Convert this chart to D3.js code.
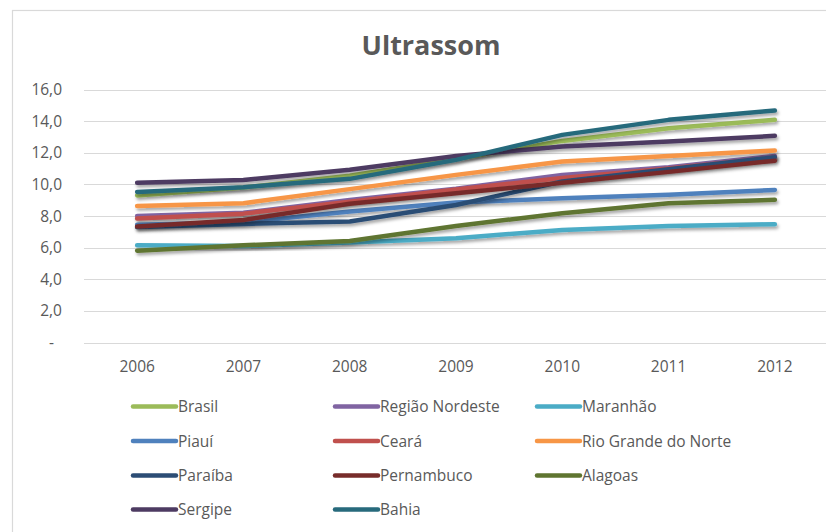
<!DOCTYPE html>
<html>
<head>
<meta charset="utf-8">
<script src="https://cdn.jsdelivr.net/npm/d3@7"></script>
<style>
  html, body { margin: 0; padding: 0; background: #fff; }
  svg { display: block; }
  text { font-family: "Open Sans", "DejaVu Sans", sans-serif; fill: #595959; }
</style>
</head>
<body>
<svg id="chart" width="826" height="532"></svg>
<script>
const years = ["2006", "2007", "2008", "2009", "2010", "2011", "2012"];
const yTicks = [0, 2, 4, 6, 8, 10, 12, 14, 16];

const seriesNames = ["Brasil", "Região Nordeste", "Maranhão", "Piauí", "Ceará",
  "Rio Grande do Norte", "Paraíba", "Pernambuco", "Alagoas", "Sergipe", "Bahia"];
const seriesColors = ["#9BBB59", "#8064A2", "#4BACC6", "#4F81BD", "#C0504D",
  "#F79646", "#2C4D75", "#772C2A", "#5F7530", "#4D3B62", "#276A7C"];

const brasil         = [9.3, 9.8, 10.55, 11.6, 12.75, 13.55, 14.08];
const regiaoNordeste = [8.0, 8.2, 9.02, 9.72, 10.6, 11.09, 11.8];
const maranhao       = [6.15, 6.1, 6.32, 6.6, 7.12, 7.37, 7.48];
const piaui          = [7.45, 7.6, 8.28, 8.85, 9.12, 9.34, 9.65];
const ceara          = [7.84, 8.15, 8.91, 9.68, 10.4, 11.0, 11.7];
const rioGrandeNorte = [8.64, 8.81, 9.7, 10.6, 11.45, 11.8, 12.14];
const paraiba        = [7.3, 7.5, 7.65, 8.7, 10.18, 10.96, 11.72];
const pernambuco     = [7.33, 7.75, 8.77, 9.44, 10.1, 10.79, 11.5];
const alagoas        = [5.81, 6.15, 6.42, 7.37, 8.18, 8.81, 9.02];
const sergipe        = [10.1, 10.28, 10.92, 11.8, 12.4, 12.71, 13.07];
const bahia          = [9.52, 9.82, 10.35, 11.55, 13.13, 14.08, 14.67];

const seriesValues = [brasil, regiaoNordeste, maranhao, piaui, ceara,
  rioGrandeNorte, paraiba, pernambuco, alagoas, sergipe, bahia];

const svg = d3.select("#chart");

// chart border
svg.append("rect")
  .attr("x", 12.5).attr("y", 10.5)
  .attr("width", 830).attr("height", 540)
  .attr("fill", "#fff").attr("stroke", "#d9d9d9").attr("stroke-width", 1.2);

// shadow filter
const defs = svg.append("defs");
const f = defs.append("filter").attr("id", "shadow")
  .attr("x", "-5%").attr("y", "-20%").attr("width", "110%").attr("height", "140%");
f.append("feDropShadow")
  .attr("dx", 1.5).attr("dy", 2.5).attr("stdDeviation", 1.6)
  .attr("flood-color", "#000").attr("flood-opacity", 0.35);

const plotLeft = 84, plotRight = 828;
const x = d3.scalePoint().domain(years).range([plotLeft, plotRight]).padding(0.5);
const y = d3.scaleLinear().domain([0, 16]).range([342.5, 89.5]);

// title
svg.append("text")
  .attr("x", 431).attr("y", 55)
  .attr("text-anchor", "middle")
  .style("font-size", "27px").style("font-weight", "bold")
  .text("Ultrassom");

// gridlines
svg.append("g").selectAll("line")
  .data(yTicks).join("line")
  .attr("x1", plotLeft).attr("x2", plotRight)
  .attr("y1", d => Math.round(y(d)) + 0.5).attr("y2", d => Math.round(y(d)) + 0.5)
  .attr("stroke", "#d9d9d9").attr("stroke-width", 1);

// y axis labels
const fmt = d => d === 0 ? "-" : d.toFixed(1).replace(".", ",");
svg.append("g").selectAll("text")
  .data(yTicks).join("text")
  .attr("x", d => d === 0 ? 54 : 62)
  .attr("y", d => y(d))
  .attr("dy", "0.36em")
  .attr("text-anchor", "end")
  .style("font-size", "15.5px")
  .text(fmt);

// x axis labels
svg.append("g").selectAll("text")
  .data(years).join("text")
  .attr("x", d => x(d))
  .attr("y", 372)
  .attr("text-anchor", "middle")
  .style("font-size", "15.5px")
  .text(d => d);

// lines
const line = d3.line()
  .x((d, i) => x(years[i]))
  .y(d => y(d));

svg.append("g").selectAll("path")
  .data(seriesValues).join("path")
  .attr("d", d => line(d))
  .attr("fill", "none")
  .attr("stroke", (d, i) => seriesColors[i])
  .attr("stroke-width", 4.5)
  .attr("stroke-linecap", "round")
  .attr("stroke-linejoin", "round")
  .attr("filter", "url(#shadow)");

// legend
const colX = [133, 335, 537];
const rowY = [406.5, 441, 475.5, 509.5];
const leg = svg.append("g").selectAll("g")
  .data(seriesNames).join("g")
  .attr("transform", (d, i) => `translate(${colX[i % 3]},${rowY[Math.floor(i / 3)]})`);
leg.append("line")
  .attr("x1", 0).attr("x2", 43).attr("y1", 0).attr("y2", 0)
  .attr("stroke", (d, i) => seriesColors[i])
  .attr("stroke-width", 4.5)
  .attr("stroke-linecap", "round");
leg.append("text")
  .attr("x", 45).attr("y", 0).attr("dy", "0.36em")
  .style("font-size", "15.5px")
  .text(d => d);
</script>
</body>
</html>
